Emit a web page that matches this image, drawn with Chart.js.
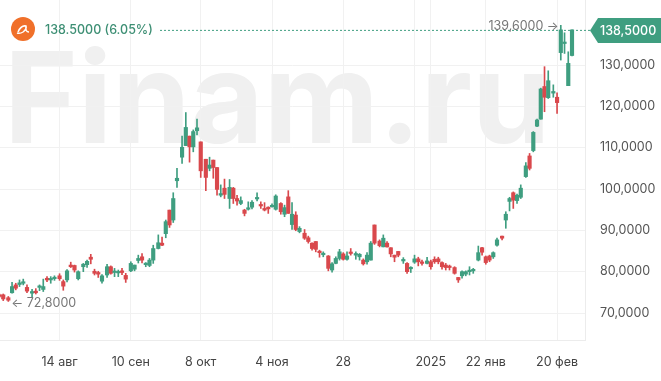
<!DOCTYPE html>
<html>
<head>
<meta charset="utf-8">
<style>
html, body { margin: 0; padding: 0; background: #fff; }
canvas { display: block; }
</style>
<script src="https://cdn.jsdelivr.net/npm/chart.js@4"></script>
</head>
<body>
<canvas id="myChart" width="661" height="381"></canvas>
<script>
// sessions
var opens = [74.4,74.4,73.7,74.9,76.8,76.9,77.2,76.2,74.8,75.3,76.2,75.7,78.4,78.0,78.3,79.0,77.6,78.0,81.6,81.5,
    78.3,81.2,81.7,83.5,80.1,79.8,77.7,79.2,81.2,79.8,79.7,80.2,79.1,80.2,80.6,82.7,83.6,81.7,81.5,82.8,
    85.6,86.9,89.2,94.9,92.5,102.0,107.7,110.5,112.8,110.2,114.1,111.4,107.2,105.0,107.0,105.2,98.5,100.2,97.7,100.2,
    97.7,96.5,94.9,95.1,95.6,97.6,96.1,95.3,95.6,95.7,95.1,96.5,93.9,98.1,91.4,93.7,89.7,89.3,88.2,86.9,
    87.3,84.8,84.1,83.8,80.4,82.0,83.2,84.3,83.0,84.7,84.0,83.6,82.8,82.4,82.8,91.3,87.4,86.0,86.9,85.8,
    84.0,84.9,82.6,82.0,80.7,82.3,83.1,82.3,82.0,82.4,83.0,83.1,82.2,81.6,81.2,81.0,78.6,79.0,79.4,80.0,
    80.2,82.8,85.8,83.6,83.8,83.6,86.4,88.6,92.5,97.0,99.1,97.2,98.0,103.0,108.0,109.3,115.2,116.9,124.8,122.1,
    123.2,122.2,133.0,135.2,125.0,132.3];
var closes = [74.0,73.4,73.1,76.4,76.0,77.3,77.5,75.3,75.2,74.9,76.5,76.4,78.0,78.3,78.6,78.3,76.5,80.2,81.2,80.4,
    80.0,81.8,82.5,83.0,79.6,79.4,79.0,81.2,79.6,80.1,80.0,79.8,78.2,82.0,81.6,83.2,82.8,82.0,82.8,85.6,
    87.0,86.4,92.1,91.3,97.7,102.6,110.1,114.9,110.2,113.9,114.8,104.4,102.8,105.8,105.2,99.9,98.9,98.7,100.4,97.7,
    97.1,97.2,94.1,95.3,96.8,97.8,95.9,94.9,95.2,96.0,98.3,94.5,95.5,94.1,93.9,90.2,90.5,88.1,87.3,85.6,
    85.4,84.6,84.3,80.8,81.9,83.2,84.8,83.0,83.8,84.4,84.4,84.2,81.9,84.0,86.9,86.9,86.3,88.1,86.0,84.3,
    83.5,84.0,82.8,80.0,81.0,83.1,82.4,82.0,82.6,81.2,82.4,82.4,81.2,81.0,81.0,79.6,78.0,80.0,80.0,80.3,
    80.5,84.6,84.7,82.2,82.8,84.6,87.7,88.1,93.9,97.7,97.3,98.5,100.2,105.6,105.0,113.7,116.7,124.2,122.2,126.2,
    123.6,120.9,138.5,135.5,130.4,138.5];
var highs = [74.6,74.6,74.0,77.4,77.2,78.0,78.2,76.8,75.7,75.9,76.8,78.2,78.8,78.8,79.0,79.5,78.0,80.5,82.3,81.6,
    80.2,82.0,82.8,84.2,80.6,80.1,79.3,81.8,81.4,80.8,80.4,80.8,79.6,82.4,81.6,84.0,84.4,82.2,83.2,86.4,
    88.9,88.4,92.5,94.9,99.1,105.0,112.8,118.5,112.8,114.3,116.9,111.4,107.2,107.7,107.0,105.2,101.0,102.4,102.3,100.4,
    98.5,98.1,95.1,96.9,97.2,99.1,96.9,96.7,95.7,96.4,98.6,96.7,96.1,99.6,96.7,94.5,90.9,90.2,88.6,87.0,
    87.3,85.2,84.8,83.9,82.2,83.6,85.4,84.6,84.8,85.6,84.8,84.4,83.1,84.6,87.3,91.3,87.7,88.9,87.3,85.8,
    84.0,84.9,83.4,82.2,81.2,84.0,83.5,82.8,83.5,82.8,83.6,83.5,82.4,82.0,81.6,81.2,78.6,80.2,80.2,81.2,
    80.8,86.2,85.9,83.8,84.0,84.8,88.1,88.6,94.5,98.0,99.3,98.8,101.0,106.4,108.6,113.9,116.9,124.4,129.6,128.6,
    125.2,123.3,139.6,137.8,133.2,138.5];
var lows = [73.8,73.0,72.8,74.8,75.6,76.4,76.8,74.9,73.7,74.6,75.4,75.2,77.6,77.2,77.9,77.9,75.5,77.5,81.0,79.9,
    78.0,80.0,81.0,81.9,79.2,78.6,77.2,78.6,79.4,78.8,78.8,79.3,77.4,80.0,80.2,82.1,82.1,81.2,81.2,82.0,
    85.5,86.3,88.2,90.7,91.9,100.4,106.2,110.5,106.5,109.0,113.1,102.8,99.6,104.4,102.6,98.5,98.1,97.7,95.3,96.5,
    96.1,96.2,93.5,94.9,95.2,97.1,95.3,94.7,94.1,95.6,94.9,93.9,93.3,94.1,90.2,89.9,89.4,87.8,86.9,85.2,
    84.8,83.5,83.6,80.2,79.9,81.9,82.8,82.8,82.8,84.0,83.0,82.8,81.6,81.8,82.8,86.6,86.0,86.0,85.9,83.6,
    82.4,83.6,82.0,79.6,79.8,82.0,81.4,81.6,81.9,80.6,82.0,81.9,80.6,80.4,80.4,79.4,77.4,78.4,79.0,79.2,
    79.6,82.6,84.0,81.8,82.4,83.2,86.2,87.7,90.5,94.7,95.3,96.5,97.7,102.8,104.6,109.0,115.1,116.9,118.7,121.9,
    122.2,118.3,131.2,132.8,125.0,132.2];

// sessions followed by a break on the time axis
var breakAfter = [1,7,14,20,26,32,39,45,51,57,64,70,76,82,89,95,101,107,114,120,126,132,139];

var tickSessions = [15,33,51,69,87,105,109,123,141];
var tickLabels = ['14 авг','10 сен','8 окт','4 ноя','28','','2025','22 янв','20 фев'];
var priceTicks = [70,80,90,100,110,120,130];

var lastPrice = 138.5;
var changeText = '138.5000 (6.05%)';
var maxPrice = 139.6;
var maxSession = 142;
var minPrice = 72.8;
var minSession = 2;

var verde = '#3f9e80';
var rojo = '#d9484c';

function comaDec(v) {
    return v.toFixed(4).replace('.', ',');
}

var sessionX = [];
var huecos = 0;
for (var i = 0; i < opens.length; i++) {
    sessionX.push(i + huecos * 0.36);
    if (breakAfter.indexOf(i) >= 0) huecos++;
}

var cuerpos = [], mechas = [], colores = [];
for (var j = 0; j < opens.length; j++) {
    cuerpos.push({ x: sessionX[j], y: [opens[j], closes[j]] });
    mechas.push({ x: sessionX[j], y: [lows[j], highs[j]] });
    colores.push(closes[j] >= opens[j] ? verde : rojo);
}

const marcaAgua = {
    id: 'marcaAgua',
    beforeDraw(chart) {
        var c = chart.ctx;
        c.save();
        c.fillStyle = '#f0f0f0';
        c.font = '700 126px Inter';
        c.textBaseline = 'alphabetic';
        c.textAlign = 'left';
        c.fillText('Finam.ru', 4, 143);
        c.restore();
    }
};

const rotulos = {
    id: 'rotulos',
    afterDraw(chart) {
        var c = chart.ctx;
        var sx = chart.scales.x, sy = chart.scales.y;
        var yLast = sy.getPixelForValue(lastPrice);

        c.save();
        // linea de precio
        c.strokeStyle = verde;
        c.lineWidth = 1;
        c.setLineDash([2, 2]);
        c.beginPath();
        c.moveTo(160, yLast + 0.5);
        c.lineTo(592, yLast + 0.5);
        c.stroke();
        c.setLineDash([]);

        // logo
        c.fillStyle = '#f0702a';
        c.beginPath();
        c.arc(23, 29, 12, 0, Math.PI * 2);
        c.fill();
        c.strokeStyle = '#fff';
        c.lineWidth = 1.5;
        c.beginPath();
        c.moveTo(18, 32);
        c.quadraticCurveTo(21, 25, 26, 26);
        c.quadraticCurveTo(27, 29, 23, 32);
        c.quadraticCurveTo(20, 34, 17, 33);
        c.moveTo(26, 26);
        c.quadraticCurveTo(25, 32, 29, 32);
        c.stroke();

        c.textBaseline = 'middle';
        c.textAlign = 'left';
        c.fillStyle = '#3d8f74';
        c.font = '500 12.5px Inter';
        c.fillText(changeText, 45, 30);

        // etiqueta del ultimo precio
        c.fillStyle = verde;
        c.beginPath();
        c.moveTo(590, yLast + 0.5);
        c.lineTo(598, 18);
        c.lineTo(661, 18);
        c.lineTo(661, 43);
        c.lineTo(598, 43);
        c.closePath();
        c.fill();
        c.fillStyle = '#fff';
        c.font = '500 12.5px Inter';
        c.fillText(comaDec(lastPrice), 600, yLast + 1.5);

        // maximo y minimo
        c.fillStyle = '#777';
        c.font = '12.5px Inter';
        c.textAlign = 'right';
        c.fillText(comaDec(maxPrice) + ' →', sx.getPixelForValue(sessionX[maxSession]) - 2, sy.getPixelForValue(maxPrice) + 1);
        c.textAlign = 'left';
        c.fillText('← ' + comaDec(minPrice), sx.getPixelForValue(sessionX[minSession]) + 3, sy.getPixelForValue(minPrice) + 2);
        c.restore();
    }
};

function sinPadding(axis) {
    axis.paddingLeft = axis.paddingRight = axis.paddingTop = axis.paddingBottom = 0;
}

var ctx = document.getElementById('myChart');

var myChart = new Chart(ctx, {
    type: 'bar',
    data: {
        datasets: [{
            label: 'cuerpo',
            data: cuerpos,
            backgroundColor: colores,
            barThickness: 3.5,
            minBarLength: 1.5,
            grouped: false
        }, {
            label: 'mecha',
            data: mechas,
            backgroundColor: colores,
            barThickness: 1,
            grouped: false
        }]
    },
    options: {
        responsive: false,
        animation: false,
        events: [],
        layout: { padding: 0 },
        plugins: {
            legend: { display: false },
            tooltip: { enabled: false }
        },
        scales: {
            x: {
                type: 'linear',
                offset: false,
                min: 0.134,
                max: 156.76,
                afterBuildTicks: function (axis) {
                    axis.ticks = tickSessions.map(function (s) { return { value: sessionX[s] }; });
                },
                afterFit: function (axis) { axis.height = 41; sinPadding(axis); },
                grid: { color: '#f1f1f1', tickLength: 0, offset: false },
                border: { color: '#ececec' },
                ticks: {
                    autoSkip: false,
                    maxRotation: 0,
                    padding: 15,
                    color: '#444',
                    font: { family: 'Inter', size: 12.5 },
                    callback: function (v, idx) { return tickLabels[idx]; }
                }
            },
            y: {
                position: 'right',
                min: 63.47,
                max: 145.73,
                afterBuildTicks: function (axis) {
                    axis.ticks = priceTicks.map(function (v) { return { value: v }; });
                },
                afterFit: function (axis) { axis.width = 76; sinPadding(axis); },
                grid: { color: '#f1f1f1', tickLength: 0 },
                border: { color: '#ececec' },
                ticks: {
                    padding: 15,
                    color: '#555',
                    font: { family: 'Inter', size: 12.5 },
                    callback: function (v) { return comaDec(v); }
                }
            }
        }
    },
    plugins: [marcaAgua, rotulos]
});
</script>
</body>
</html>
